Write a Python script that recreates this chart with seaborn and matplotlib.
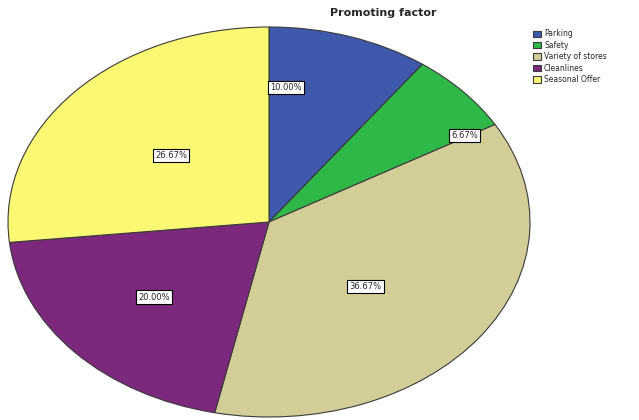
import matplotlib
matplotlib.use('Agg')
import matplotlib.pyplot as plt
import seaborn as sns

sns.set_theme(style="white")
plt.rcParams['font.family'] = ['DejaVu Sans']

# data
categories = ["Parking", "Safety", "Variety of stores", "Cleanlines", "Seasonal Offer"]
percents = [10.00, 6.67, 36.67, 20.00, 26.67]
colors = ["#3E58AC", "#2EB848", "#D3CE97", "#7C287D", "#FBF873"]

# where SPSS dropped the percent boxes (axes units, ellipse stretched)
label_pos = [(0.065, 0.69), (0.75, 0.445), (0.37, -0.33), (-0.44, -0.385), (-0.375, 0.34)]

fig = plt.figure(figsize=(6.39, 4.20), dpi=100)
ax = fig.add_axes([8 / 639, 3 / 420, 522 / 639, 390 / 420])

wedges, _ = ax.pie(percents, colors=colors, startangle=90, counterclock=False,
                   radius=1, wedgeprops=dict(edgecolor="#3a3a3a", linewidth=0.8))
ax.set_aspect('auto')
ax.set_xlim(-1, 1)
ax.set_ylim(-1, 1)
ax.axis('off')

for p, (x, y) in zip(percents, label_pos):
    ax.text(x, y, f"{p:.2f}%", ha='center', va='center', fontsize=6,
            bbox=dict(boxstyle='square,pad=0.25', facecolor='white',
                      edgecolor='black', linewidth=0.8))

fig.text(383 / 639, 1 - 13 / 420, "Promoting factor", ha='center', va='center',
         fontsize=8, fontweight='bold')

leg = fig.legend(wedges, categories, loc='upper left', bbox_to_anchor=(528 / 639, 1 - 24 / 420),
                 frameon=False, fontsize=5.5, handlelength=1.0, handleheight=0.9,
                 handletextpad=0.4, labelspacing=0.32, borderpad=0.2)

fig.savefig("out.png", dpi=100)
